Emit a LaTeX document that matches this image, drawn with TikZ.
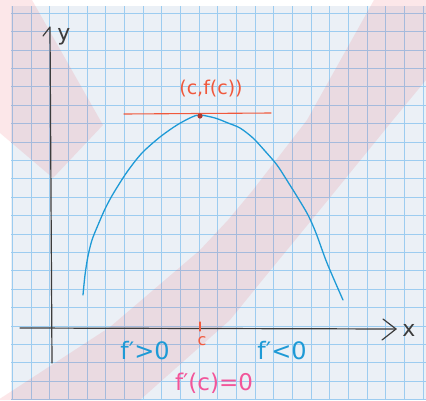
\documentclass[tikz,border=0pt]{standalone}
\usepackage{fontspec}
\setmainfont{DejaVu Sans}
\definecolor{paper}{HTML}{EBF0F6}
\definecolor{gridblue}{HTML}{9CCCF0}
\definecolor{wmred}{HTML}{E8404F}
\definecolor{axisgray}{HTML}{3C3C3C}
\definecolor{curveblue}{HTML}{1E9AD6}
\definecolor{tanred}{HTML}{F0583C}
\definecolor{inkpink}{HTML}{F2559A}
\definecolor{dotred}{HTML}{B03A30}
\tikzset{
  gridline/.style={gridblue, line width=0.6pt},
  wm/.style={fill=wmred, fill opacity=0.12},
  axisline/.style={axisgray, line width=1.2pt, line cap=round, line join=round},
  curveline/.style={curveblue, line width=1.3pt, line cap=round},
  tanline/.style={tanred, line width=1.1pt, line cap=round},
  lbl/.style={inner sep=0pt, outer sep=0pt},
}
\begin{document}
\begin{tikzpicture}[x=1pt,y=-1pt]
\useasboundingbox (0,0) rectangle (426,400);
\fill[white] (0,0) rectangle (426,400);
\fill[paper] (11,6) rectangle (426,400);
\begin{scope}
\clip (11,6) rectangle (426,400);
\foreach \i in {0,...,22} \draw[gridline] ({12.3+\i*18.67},6) -- ++(0,394);
\foreach \j in {0,...,21} \draw[gridline] (11,{13+\j*18.4}) -- ++(415,0);
\end{scope}
% watermark
\fill[wm] (0,0) -- (32,0) -- (103,125) -- (53,178) -- (0,133) -- cycle;
\fill[wm] (374,0) -- (426,0) -- (426,80) -- (393,120) -- (328,200) -- (260,283) -- (230,320) -- (140,400) -- (-2,400) -- (110,327) -- (200,250) -- (228,220) -- (253,190) -- (307,120) -- cycle;
% axes
\coordinate (yb) at (52,363);
\coordinate (yt) at (50,27);
\coordinate (ybarb) at (43,36);
\draw[axisline] (yb) -- (yt) -- (ybarb);
\coordinate (xl) at (20,328);
\coordinate (xr) at (396,329);
\coordinate (xb1) at (383,319);
\coordinate (xb2) at (382,340);
\draw[axisline] (xl) -- (xr);
\draw[axisline] (xb1) -- (xr) -- (xb2);
\node[lbl, axisgray, font=\fontsize{22}{22}\selectfont] (ylab) at (64,37) {y};
\node[lbl, axisgray, font=\fontsize{22}{22}\selectfont] (xlab) at (409,330) {x};
% curve
\draw[curveline] plot[smooth, tension=0.5] coordinates {(83,295) (85,275) (88,256) (92,240) (98,225) (105,209) (113,194) (127,172) (142,153) (160,137) (177,125) (192,117) (200,115) (215,118) (228,123) (240,128) (253,138) (265,151) (277,165) (288,182) (298,198) (308,215) (316,233) (327,263) (343,300)};
% tangent
\coordinate (tl) at (124,114);
\coordinate (tr) at (271,113);
\draw[tanline] (tl) -- (tr);
\fill[dotred] (200,116) circle (2.6);
\node[lbl, tanred, font=\fontsize{19}{19}\selectfont] (pt) at (211,89) {(c,f(c))};
% tick at c
\coordinate (ct) at (200,322);
\coordinate (cb) at (200,331);
\draw[tanline] (ct) -- (cb);
\node[lbl, tanred, font=\fontsize{16}{16}\selectfont] (clab) at (202,341) {c};
% labels
\node[lbl, curveblue, font=\fontsize{24}{24}\selectfont] (fpos) at (145,351) {f′>0};
\node[lbl, curveblue, font=\fontsize{24}{24}\selectfont] (fneg) at (282,351) {f′<0};
\node[lbl, inkpink, font=\fontsize{23}{23}\selectfont] (fzero) at (214,383) {f′(c)=0};
\end{tikzpicture}
\end{document}
